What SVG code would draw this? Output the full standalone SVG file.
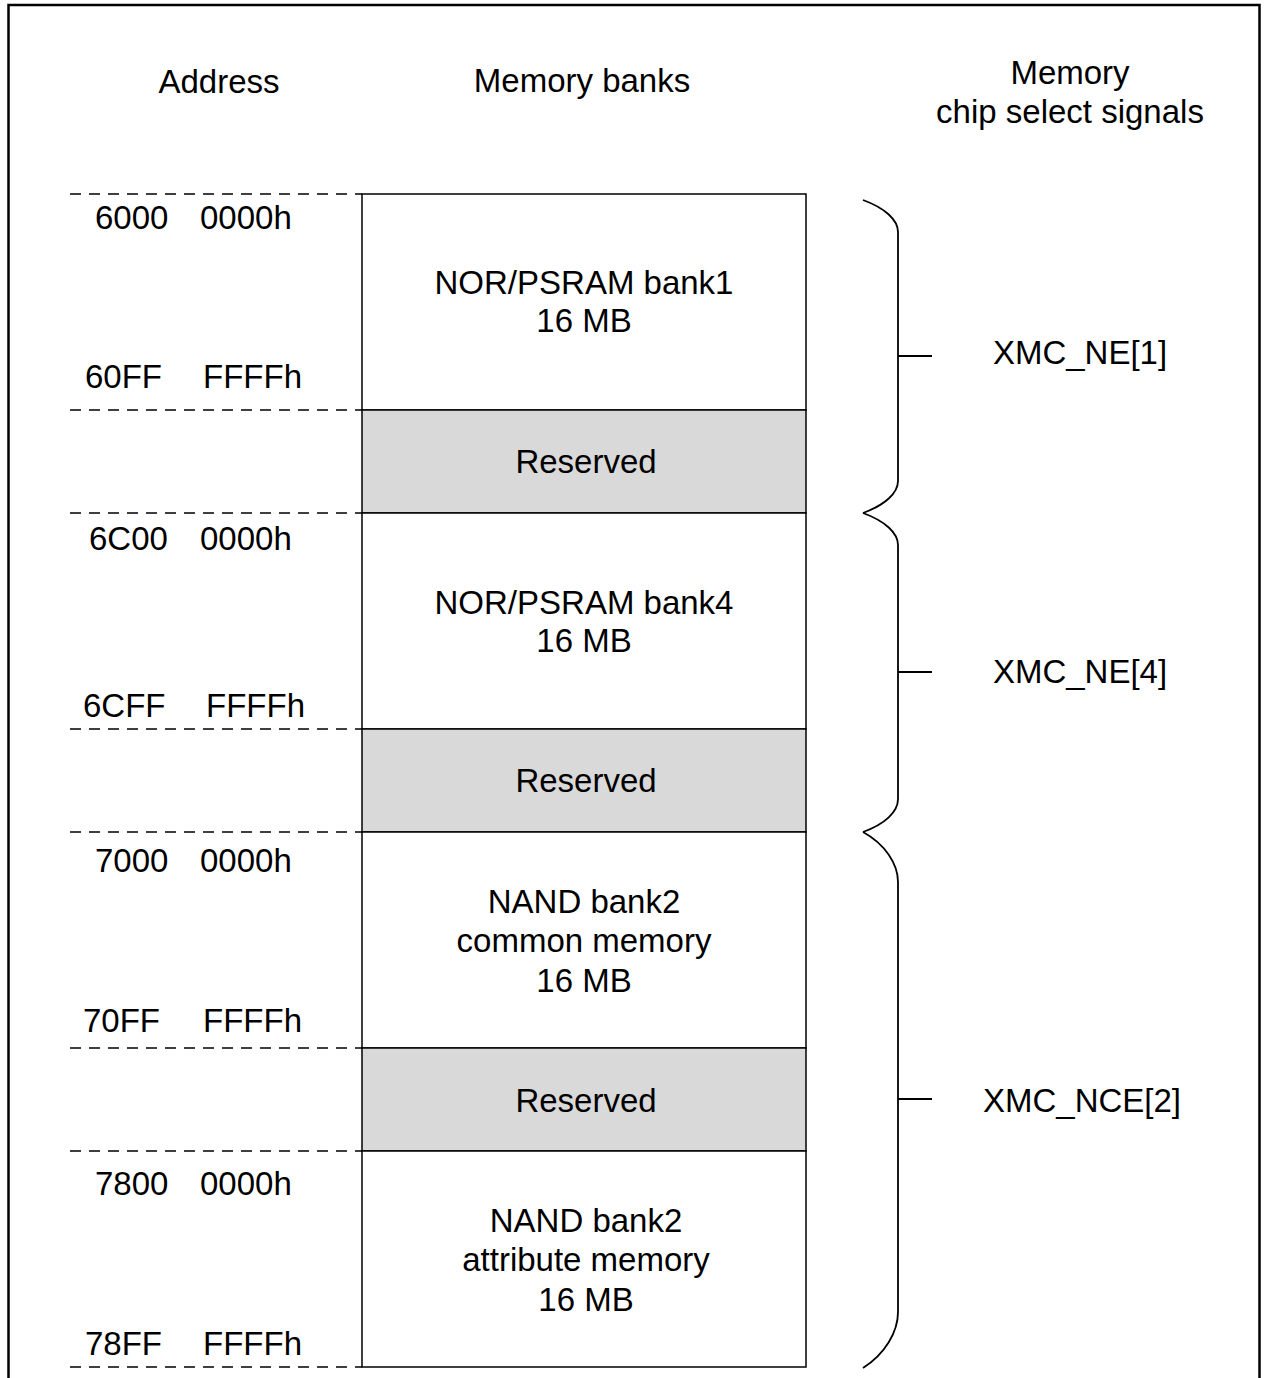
<svg xmlns="http://www.w3.org/2000/svg" width="1268" height="1378" viewBox="0 0 1268 1378">
<style>
text{font-family:"Liberation Sans",Arial,sans-serif;font-size:33px;fill:#000}
.c{text-anchor:middle}
.box{fill:#fff;stroke:#000;stroke-width:1.5}
.res{fill:#d9d9d9;stroke:#000;stroke-width:1.5}
.dash{stroke:#000;stroke-width:1.5;stroke-dasharray:11 8;fill:none}
.br{fill:none;stroke:#000;stroke-width:1.8}
</style>
<rect x="8.5" y="5" width="1251" height="1400" fill="#fff" stroke="#000" stroke-width="2.5"/>
<g id="headers">
<text class="c" x="219" y="93">Address</text>
<text class="c" x="582" y="92">Memory banks</text>
<text class="c" x="1070" y="84">Memory</text>
<text class="c" x="1070" y="123">chip select signals</text>
</g>
<g id="connectors">
<line class="dash" x1="70" y1="194" x2="362" y2="194"/>
<line class="dash" x1="70" y1="410" x2="362" y2="410"/>
<line class="dash" x1="70" y1="513" x2="362" y2="513"/>
<line class="dash" x1="70" y1="729" x2="362" y2="729"/>
<line class="dash" x1="70" y1="832" x2="362" y2="832"/>
<line class="dash" x1="70" y1="1048" x2="362" y2="1048"/>
<line class="dash" x1="70" y1="1151" x2="362" y2="1151"/>
<line class="dash" x1="70" y1="1367" x2="362" y2="1367"/>
</g>
<g id="bank1"><rect class="box" x="362" y="194" width="444" height="216"/>
<text class="c" x="584" y="294">NOR/PSRAM bank1</text><text class="c" x="584" y="332">16 MB</text></g>
<g id="res1"><rect class="res" x="362" y="410" width="444" height="103"/>
<text class="c" x="586" y="473">Reserved</text></g>
<g id="bank4"><rect class="box" x="362" y="513" width="444" height="216"/>
<text class="c" x="584" y="614">NOR/PSRAM bank4</text><text class="c" x="584" y="652">16 MB</text></g>
<g id="res2"><rect class="res" x="362" y="729" width="444" height="103"/>
<text class="c" x="586" y="792">Reserved</text></g>
<g id="nand-common"><rect class="box" x="362" y="832" width="444" height="216"/>
<text class="c" x="584" y="913">NAND bank2</text><text class="c" x="584" y="952">common memory</text><text class="c" x="584" y="992">16 MB</text></g>
<g id="res3"><rect class="res" x="362" y="1048" width="444" height="103"/>
<text class="c" x="586" y="1112">Reserved</text></g>
<g id="nand-attr"><rect class="box" x="362" y="1151" width="444" height="216"/>
<text class="c" x="586" y="1232">NAND bank2</text><text class="c" x="586" y="1271">attribute memory</text><text class="c" x="586" y="1311">16 MB</text></g>
<g id="addresses">
<text x="95" y="229">6000</text><text x="200" y="229">0000h</text>
<text x="85" y="388">60FF</text><text x="203" y="388">FFFFh</text>
<text x="89" y="550">6C00</text><text x="200" y="550">0000h</text>
<text x="83" y="717">6CFF</text><text x="206" y="717">FFFFh</text>
<text x="95" y="872">7000</text><text x="200" y="872">0000h</text>
<text x="83" y="1032">70FF</text><text x="203" y="1032">FFFFh</text>
<text x="95" y="1195">7800</text><text x="200" y="1195">0000h</text>
<text x="85" y="1355">78FF</text><text x="203" y="1355">FFFFh</text>
</g>
<g id="braces">
<path class="br" d="M863,200 C885,208 898,220 898,232 L898,481 C898,493 885,505 863,513"/>
<path class="br" d="M863,513 C885,521 898,533 898,545 L898,799 C898,812 885,824 863,832"/>
<path class="br" d="M863,832 C885,844 898,864 898,882 L898,1312 C898,1332 885,1354 863,1368"/>
<line class="br" x1="898" y1="356" x2="932" y2="356"/>
<line class="br" x1="898" y1="672" x2="932" y2="672"/>
<line class="br" x1="898" y1="1099" x2="932" y2="1099"/>
</g>
<g id="signals">
<text class="c" x="1080" y="364">XMC_NE[1]</text>
<text class="c" x="1080" y="683">XMC_NE[4]</text>
<text class="c" x="1082" y="1112">XMC_NCE[2]</text>
</g>
</svg>
